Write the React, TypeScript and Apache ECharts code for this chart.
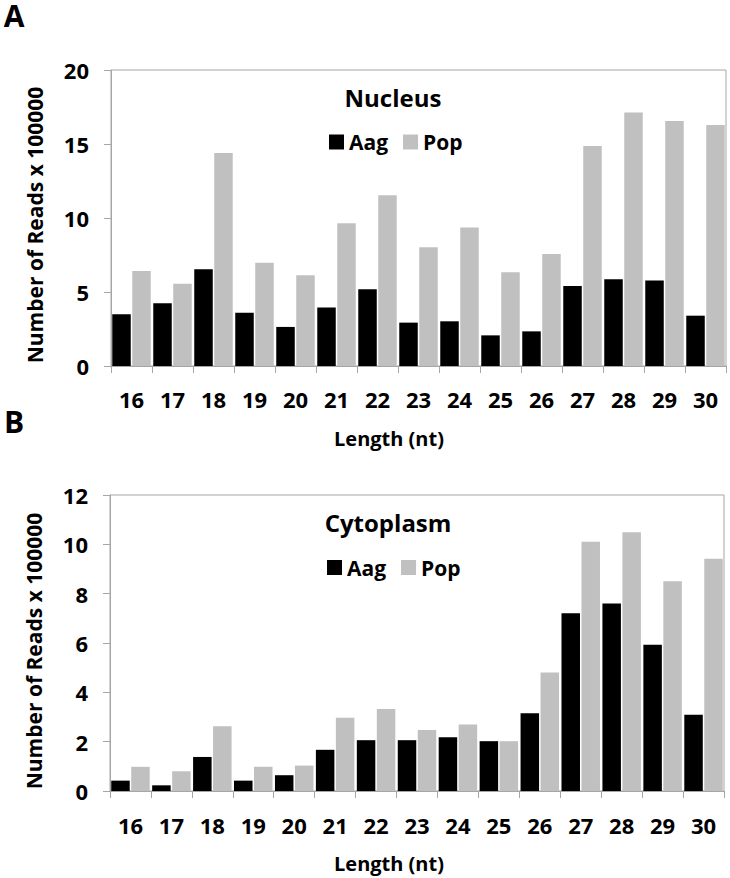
import React, { useEffect, useRef } from "react";
import * as echarts from "echarts";

const lengths = ["16", "17", "18", "19", "20", "21", "22", "23", "24", "25", "26", "27", "28", "29", "30"];
const seriesNames = ["Aag", "Pop"];

const nucleusAag = [3.5, 4.24, 6.53, 3.6, 2.64, 3.96, 5.18, 2.93, 3.02, 2.07, 2.34, 5.41, 5.86, 5.77, 3.4];
const nucleusPop = [6.42, 5.56, 14.39, 6.98, 6.13, 9.64, 11.53, 8.02, 9.35, 6.33, 7.57, 14.86, 17.12, 16.55, 16.28];

const cytoAag = [0.42, 0.23, 1.38, 0.42, 0.64, 1.67, 2.06, 2.06, 2.18, 2.02, 3.15, 7.21, 7.6, 5.93, 3.09];
const cytoPop = [0.98, 0.8, 2.63, 0.98, 1.03, 2.97, 3.32, 2.47, 2.7, 2.02, 4.8, 10.1, 10.49, 8.5, 9.42];

const FONT = "'Open Sans', 'Noto Sans', sans-serif";
const AXIS_GRAY = "#a6a6a6";
const BLACK = "#000000";
const GRAY = "#c0c0c0";

export default function App() {
  const ref = useRef<HTMLDivElement>(null);

  useEffect(() => {
    if (!ref.current) return;
    const chart = echarts.init(ref.current, undefined, { renderer: "svg" });

    const xAxisBase = (gridIndex: number, margin: number) => ({
      type: "category" as const,
      gridIndex,
      data: lengths,
      axisLine: { lineStyle: { color: AXIS_GRAY, width: 1 } },
      axisTick: { show: true, length: 7, lineStyle: { color: AXIS_GRAY } },
      axisLabel: {
        color: "#000",
        fontFamily: FONT,
        fontWeight: "bold",
        fontSize: 22,
        lineHeight: 22,
        margin,
        interval: 0,
      },
      splitLine: { show: false },
    });

    const yAxisBase = (gridIndex: number, max: number, interval: number) => ({
      type: "value" as const,
      gridIndex,
      min: 0,
      max,
      interval,
      axisLine: { show: true, lineStyle: { color: AXIS_GRAY, width: 1 } },
      axisTick: { show: true, length: 7, lineStyle: { color: AXIS_GRAY } },
      axisLabel: {
        color: "#000",
        fontFamily: FONT,
        fontWeight: "bold",
        fontSize: 22,
        margin: 22,
      },
      splitLine: { show: false },
    });

    const barCommon = {
      type: "bar" as const,
      barWidth: 18.5,
      barGap: "8%",
    };

    const legendBase = (top: number, left: number) => ({
      top,
      left,
      padding: 0,
      itemWidth: 15,
      itemHeight: 15,
      itemGap: 15,
      icon: "rect",
      data: seriesNames,
      textStyle: {
        color: "#000",
        fontFamily: FONT,
        fontWeight: "bold",
        fontSize: 21,
        lineHeight: 20,
      },
      selectedMode: false,
    });

    const txt = (
      x: number,
      y: number,
      text: string,
      size: number,
      rotation = 0,
      lh = size
    ) => ({
      type: "text",
      x,
      y,
      rotation,
      style: {
        text,
        fill: "#000",
        font: `bold ${size}px ${FONT}`,
        lineHeight: lh,
        textAlign: "center",
        textVerticalAlign: "middle",
      },
    });

    chart.setOption({
      animation: false,
      backgroundColor: "#ffffff",
      grid: [
        {
          left: 111,
          top: 70,
          width: 615,
          height: 296,
          show: true,
          borderColor: AXIS_GRAY,
          borderWidth: 1,
          backgroundColor: "transparent",
        },
        {
          left: 110,
          top: 495,
          width: 614,
          height: 296,
          show: true,
          borderColor: AXIS_GRAY,
          borderWidth: 1,
          backgroundColor: "transparent",
        },
      ],
      xAxis: [xAxisBase(0, 22), xAxisBase(1, 23)],
      yAxis: [yAxisBase(0, 20, 5), yAxisBase(1, 12, 2)],
      legend: [legendBase(131.5, 329), legendBase(557, 327)],
      series: [
        { ...barCommon, name: "Aag", xAxisIndex: 0, yAxisIndex: 0, data: nucleusAag, itemStyle: { color: BLACK } },
        { ...barCommon, name: "Pop", xAxisIndex: 0, yAxisIndex: 0, data: nucleusPop, itemStyle: { color: GRAY } },
        { ...barCommon, name: "Aag", xAxisIndex: 1, yAxisIndex: 1, data: cytoAag, itemStyle: { color: BLACK } },
        { ...barCommon, name: "Pop", xAxisIndex: 1, yAxisIndex: 1, data: cytoPop, itemStyle: { color: GRAY } },
      ],
      graphic: [
        txt(14, 15, "A", 30, 0, 28),
        txt(14, 421, "B", 30, 0, 28),
        txt(393, 97, "Nucleus", 24),
        txt(388, 522, "Cytoplasm", 24),
        txt(35, 225, "Number of Reads x 100000", 21, Math.PI / 2),
        txt(34, 651, "Number of Reads x 100000", 21, Math.PI / 2),
        txt(389, 438, "Length (nt)", 20),
        txt(389, 863, "Length (nt)", 20),
      ],
    });

    return () => chart.dispose();
  }, []);

  return (
    <div
      ref={ref}
      style={{ position: "fixed", left: 0, top: 0, width: 730, height: 878, background: "#fff" }}
    />
  );
}
